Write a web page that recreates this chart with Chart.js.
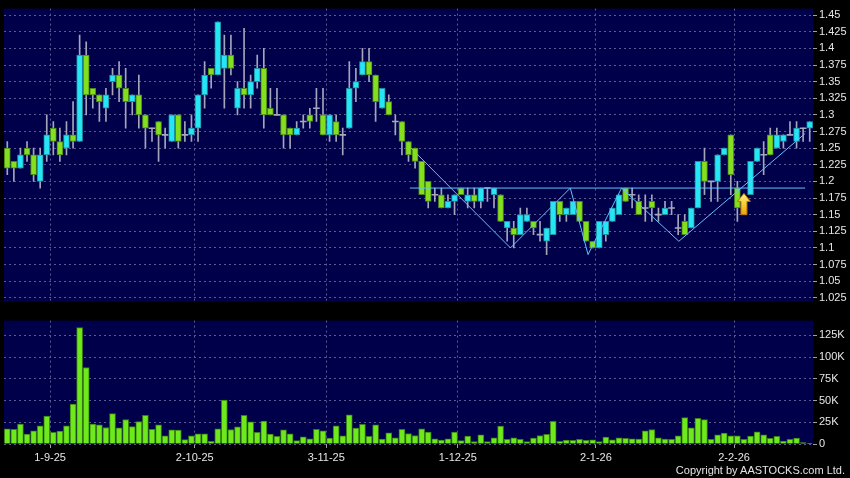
<!DOCTYPE html>
<html>
<head>
<meta charset="utf-8">
<script src="https://cdn.jsdelivr.net/npm/chart.js@4.4.1/dist/chart.umd.min.js"></script>
<style>
  html, body { margin: 0; padding: 0; background: #000; }
  #wrap { position: relative; width: 850px; height: 478px; overflow: hidden; font-family: "Liberation Sans", Arial, sans-serif; }
  #priceChart { position: absolute; left: 0; top: 0; }
  #volChart { position: absolute; left: 0; top: 312px; }
  #copy { position: absolute; right: 5px; top: 464px; color: #e4e4e4; font-size: 11px; }
</style>
</head>
<body>
<div id="wrap">
  <canvas id="priceChart" width="850" height="310"></canvas>
  <canvas id="volChart" width="850" height="166"></canvas>
  <div id="copy">Copyright by AASTOCKS.com Ltd.</div>
</div>
<script>
// trading days (d-m-yy)
const dates = ('22-8-25 25-8-25 26-8-25 27-8-25 28-8-25 29-8-25 ' +
  '1-9-25 2-9-25 3-9-25 4-9-25 5-9-25 8-9-25 9-9-25 10-9-25 11-9-25 12-9-25 15-9-25 16-9-25 17-9-25 18-9-25 19-9-25 ' +
  '22-9-25 23-9-25 24-9-25 25-9-25 26-9-25 29-9-25 30-9-25 ' +
  '2-10-25 3-10-25 6-10-25 8-10-25 9-10-25 10-10-25 13-10-25 14-10-25 15-10-25 16-10-25 17-10-25 ' +
  '20-10-25 21-10-25 22-10-25 23-10-25 24-10-25 27-10-25 28-10-25 30-10-25 31-10-25 ' +
  '3-11-25 4-11-25 5-11-25 6-11-25 7-11-25 10-11-25 11-11-25 12-11-25 13-11-25 14-11-25 ' +
  '17-11-25 18-11-25 19-11-25 20-11-25 21-11-25 24-11-25 25-11-25 26-11-25 27-11-25 28-11-25 ' +
  '1-12-25 2-12-25 3-12-25 4-12-25 5-12-25 8-12-25 9-12-25 10-12-25 11-12-25 12-12-25 ' +
  '15-12-25 16-12-25 17-12-25 18-12-25 19-12-25 22-12-25 23-12-25 24-12-25 29-12-25 30-12-25 31-12-25 ' +
  '2-1-26 5-1-26 6-1-26 7-1-26 8-1-26 9-1-26 12-1-26 13-1-26 14-1-26 15-1-26 16-1-26 ' +
  '19-1-26 20-1-26 21-1-26 22-1-26 23-1-26 26-1-26 27-1-26 28-1-26 29-1-26 30-1-26 ' +
  '2-2-26 3-2-26 4-2-26 5-2-26 6-2-26 9-2-26 10-2-26 11-2-26 12-2-26 13-2-26 16-2-26 20-2-26 23-2-26').split(' ');

const labelDates = ['1-9-25', '2-10-25', '3-11-25', '1-12-25', '2-1-26', '2-2-26'];

const open = [
  1.25, 1.23, 1.22, 1.25, 1.24, 1.20, 1.24, 1.28, 1.26, 1.25,
  1.27, 1.26, 1.39, 1.34, 1.33, 1.31, 1.35, 1.36, 1.34, 1.32,
  1.33, 1.30, 1.28, 1.29, 1.27, 1.26, 1.30, 1.27, 1.27, 1.28,
  1.33, 1.37, 1.36, 1.37, 1.39, 1.31, 1.34, 1.33, 1.35, 1.37,
  1.31, 1.30, 1.30, 1.28, 1.27, 1.29, 1.30, 1.31, 1.30, 1.27,
  1.29, 1.27, 1.28, 1.34, 1.36, 1.38, 1.36, 1.31, 1.32, 1.29,
  1.29, 1.26, 1.25, 1.23, 1.20, 1.18, 1.18, 1.16, 1.17, 1.19,
  1.17, 1.18, 1.17, 1.19, 1.18, 1.18, 1.13, 1.13, 1.12, 1.14,
  1.14, 1.12, 1.11, 1.12, 1.17, 1.15, 1.15, 1.17, 1.14, 1.11,
  1.10, 1.12, 1.14, 1.15, 1.19, 1.18, 1.17, 1.16, 1.17, 1.15,
  1.15, 1.16, 1.13, 1.14, 1.13, 1.16, 1.23, 1.20, 1.20, 1.24,
  1.27, 1.19, 1.16, 1.18, 1.23, 1.24, 1.27, 1.25, 1.26, 1.27,
  1.26, 1.28, 1.28
];
const high = [
  1.26, 1.23, 1.25, 1.26, 1.25, 1.25, 1.30, 1.29, 1.28, 1.29,
  1.32, 1.42, 1.41, 1.34, 1.33, 1.34, 1.37, 1.38, 1.37, 1.33,
  1.36, 1.30, 1.28, 1.29, 1.28, 1.30, 1.30, 1.29, 1.30, 1.33,
  1.38, 1.37, 1.44, 1.42, 1.42, 1.35, 1.43, 1.36, 1.39, 1.40,
  1.34, 1.34, 1.30, 1.28, 1.29, 1.30, 1.31, 1.34, 1.34, 1.30,
  1.30, 1.28, 1.38, 1.37, 1.40, 1.40, 1.36, 1.34, 1.33, 1.30,
  1.29, 1.26, 1.25, 1.23, 1.20, 1.19, 1.19, 1.18, 1.18, 1.19,
  1.19, 1.19, 1.19, 1.19, 1.19, 1.18, 1.14, 1.14, 1.16, 1.16,
  1.14, 1.14, 1.13, 1.17, 1.17, 1.16, 1.17, 1.17, 1.14, 1.11,
  1.14, 1.14, 1.16, 1.18, 1.19, 1.19, 1.18, 1.18, 1.18, 1.16,
  1.17, 1.17, 1.15, 1.15, 1.16, 1.23, 1.25, 1.20, 1.24, 1.25,
  1.27, 1.20, 1.18, 1.23, 1.25, 1.26, 1.28, 1.28, 1.27, 1.29,
  1.29, 1.28, 1.29
];
const low = [
  1.21, 1.20, 1.22, 1.23, 1.20, 1.19, 1.23, 1.24, 1.23, 1.24,
  1.25, 1.26, 1.30, 1.31, 1.29, 1.29, 1.33, 1.32, 1.28, 1.30,
  1.28, 1.25, 1.26, 1.23, 1.25, 1.26, 1.25, 1.26, 1.26, 1.26,
  1.31, 1.34, 1.36, 1.31, 1.36, 1.30, 1.31, 1.31, 1.34, 1.28,
  1.30, 1.30, 1.25, 1.25, 1.27, 1.28, 1.28, 1.29, 1.27, 1.26,
  1.26, 1.24, 1.28, 1.32, 1.36, 1.35, 1.29, 1.31, 1.30, 1.27,
  1.24, 1.23, 1.22, 1.18, 1.16, 1.17, 1.16, 1.16, 1.15, 1.18,
  1.16, 1.16, 1.16, 1.17, 1.16, 1.14, 1.11, 1.10, 1.12, 1.14,
  1.12, 1.11, 1.09, 1.12, 1.14, 1.14, 1.15, 1.14, 1.11, 1.10,
  1.10, 1.11, 1.14, 1.15, 1.17, 1.16, 1.15, 1.14, 1.14, 1.14,
  1.15, 1.15, 1.12, 1.12, 1.13, 1.16, 1.18, 1.17, 1.17, 1.24,
  1.18, 1.14, 1.16, 1.18, 1.23, 1.21, 1.24, 1.25, 1.25, 1.27,
  1.25, 1.26, 1.26
];
const close = [
  1.22, 1.22, 1.24, 1.24, 1.21, 1.24, 1.27, 1.26, 1.24, 1.27,
  1.26, 1.39, 1.33, 1.33, 1.32, 1.33, 1.36, 1.34, 1.32, 1.33,
  1.30, 1.28, 1.28, 1.27, 1.27, 1.30, 1.26, 1.27, 1.28, 1.33,
  1.36, 1.36, 1.44, 1.39, 1.37, 1.34, 1.33, 1.35, 1.37, 1.30,
  1.30, 1.30, 1.27, 1.27, 1.28, 1.29, 1.29, 1.31, 1.27, 1.30,
  1.27, 1.27, 1.34, 1.35, 1.38, 1.36, 1.32, 1.34, 1.30, 1.29,
  1.26, 1.24, 1.23, 1.18, 1.17, 1.18, 1.16, 1.17, 1.18, 1.18,
  1.18, 1.17, 1.19, 1.19, 1.19, 1.14, 1.14, 1.12, 1.15, 1.15,
  1.13, 1.12, 1.13, 1.17, 1.15, 1.16, 1.17, 1.14, 1.11, 1.10,
  1.14, 1.14, 1.16, 1.18, 1.17, 1.18, 1.15, 1.16, 1.16, 1.15,
  1.16, 1.16, 1.13, 1.12, 1.16, 1.23, 1.20, 1.20, 1.24, 1.25,
  1.21, 1.16, 1.17, 1.23, 1.25, 1.24, 1.24, 1.27, 1.27, 1.27,
  1.28, 1.28, 1.29
];
const volume = [
  17400, 17000, 23000, 11400, 15200, 20800, 32000, 13300, 14800, 20800,
  45800, 134000, 88000, 23000, 22000, 19000, 35000, 18600, 28000, 20000,
  25800, 33000, 17000, 22000, 9500, 16300, 16000, 5000, 9500, 11700,
  11700, 3000, 17400, 50400, 16700, 19700, 33000, 25400, 13300, 26500,
  11400, 8700, 16300, 11700, 3800, 8300, 6000, 17000, 15200, 6800,
  20800, 9500, 33700, 18200, 22700, 8700, 22000, 5700, 12900, 7200,
  17000, 12100, 9800, 17400, 13600, 6000, 4500, 6000, 13600, 3800,
  9100, 2700, 10600, 2700, 7200, 20500, 5300, 7200, 5300, 2700,
  6800, 9800, 11000, 26000, 3000, 4500, 4200, 5300, 4200, 4900,
  2700, 8000, 4900, 7200, 6400, 6000, 5700, 15200, 16700, 7200,
  5700, 5300, 9500, 30300, 18600, 29500, 28000, 5300, 10600, 12500,
  9500, 9500, 5300, 9100, 14000, 10600, 6400, 8700, 3400, 5300,
  6800, 1500, 400
];

// hand-drawn pattern lines (x in trading-day index)
const trendX = [61.4, 76.5, 85.6, 88.3, 93.4, 102.1, 121.3];
const trendY = [1.25, 1.10, 1.19, 1.09, 1.19, 1.11, 1.272];
const neckX = [61.2, 121.3];
const neckY = [1.19, 1.19];
const arrowIdx = 112, arrowTop = 1.182, arrowBottom = 1.15;

const priceTicks = [1.025, 1.05, 1.075, 1.1, 1.125, 1.15, 1.175, 1.2, 1.225, 1.25, 1.275, 1.3, 1.325, 1.35, 1.375, 1.4, 1.425, 1.45];
const volTicks = [0, 25000, 50000, 75000, 100000, 125000];

const gridIdx = labelDates.map(d => dates.indexOf(d));
const font = { family: 'Liberation Sans', size: 11 };
const gridColor = '#5a5a92';
const textColor = '#e6e6e6';
const lineColor = '#62c2ff';

function candleFill(i) {
  if (close[i] > open[i]) return '#26e6f6';
  if (close[i] < open[i]) return '#84e01e';
  return '#a8a8bc';
}
function candleEdge(i) {
  if (close[i] > open[i]) return '#1c8e9e';
  if (close[i] < open[i]) return '#4a861a';
  return '#a8a8bc';
}

// set ticks sendiri dan kunci batas skala
function fixTicks(values, lo, hi) {
  return s => {
    s.ticks = values.map(v => ({ value: v }));
    s.min = lo;
    s.max = hi;
  };
}

const panelBg = {
  id: 'panelBg',
  beforeDraw(chart) {
    const { ctx, chartArea: a } = chart;
    ctx.save();
    ctx.fillStyle = '#00004a';
    ctx.fillRect(a.left, a.top, a.right - a.left, a.bottom - a.top);
    ctx.restore();
  }
};

const arrowMark = {
  id: 'arrowMark',
  afterDatasetsDraw(chart) {
    const { ctx, scales: { x, y } } = chart;
    const cx = x.getPixelForValue(arrowIdx);
    const top = y.getPixelForValue(arrowTop);
    const bot = y.getPixelForValue(arrowBottom);
    const hw = 6.5, sw = 3, hh = 8;
    ctx.save();
    const g = ctx.createLinearGradient(0, top, 0, bot);
    g.addColorStop(0, '#fff27a');
    g.addColorStop(1, '#eea400');
    ctx.beginPath();
    ctx.moveTo(cx, top);
    ctx.lineTo(cx + hw, top + hh);
    ctx.lineTo(cx + sw, top + hh);
    ctx.lineTo(cx + sw, bot);
    ctx.lineTo(cx - sw, bot);
    ctx.lineTo(cx - sw, top + hh);
    ctx.lineTo(cx - hw, top + hh);
    ctx.closePath();
    ctx.fillStyle = g;
    ctx.fill();
    ctx.strokeStyle = '#b87800';
    ctx.lineWidth = 1;
    ctx.stroke();
    ctx.restore();
  }
};

const xMin = -0.5;
const xMax = dates.length - 0.5;
const gridPos = gridIdx.map(i => i + 0.5);

// grafik harga
new Chart(document.getElementById('priceChart'), {
  type: 'bar',
  data: {
    labels: dates,
    datasets: [
      {
        label: 'wick',
        data: dates.map((d, i) => [low[i], high[i]]),
        backgroundColor: '#a4a4ba',
        barThickness: 1,
        grouped: false,
        order: 2
      },
      {
        label: 'body',
        data: dates.map((d, i) => open[i] === close[i]
          ? [open[i] - 0.0007, open[i] + 0.0007]
          : [Math.min(open[i], close[i]), Math.max(open[i], close[i])]),
        backgroundColor: ctx => candleFill(ctx.dataIndex),
        borderColor: ctx => candleEdge(ctx.dataIndex),
        borderWidth: ctx => open[ctx.dataIndex] === close[ctx.dataIndex] ? 0 : 1,
        borderSkipped: false,
        barThickness: 6,
        grouped: false,
        order: 1
      },
      {
        type: 'line',
        label: 'trend',
        xAxisID: 'xl',
        data: trendX.map((x, k) => ({ x: x, y: trendY[k] })),
        borderColor: lineColor,
        borderWidth: 1,
        pointRadius: 0,
        tension: 0,
        order: 0
      },
      {
        type: 'line',
        label: 'neck',
        xAxisID: 'xl',
        data: neckX.map((x, k) => ({ x: x, y: neckY[k] })),
        borderColor: lineColor,
        borderWidth: 1,
        pointRadius: 0,
        order: 0
      }
    ]
  },
  options: {
    responsive: false,
    animation: false,
    layout: { autoPadding: false, padding: { left: 4, top: 5, bottom: 4, right: 0 } },
    plugins: { legend: { display: false }, tooltip: { enabled: false } },
    scales: {
      x: { type: 'category', display: false, offset: true },
      xl: {
        type: 'linear', position: 'bottom', min: xMin, max: xMax, offset: false,
        afterBuildTicks: fixTicks(gridPos, xMin, xMax),
        afterFit: s => { s.height = 0; },
        ticks: { display: false },
        grid: { color: gridColor, drawTicks: false, offset: false },
        border: { display: false, dash: [2, 3] }
      },
      y: {
        position: 'right', min: 1.0196, max: 1.4598,
        afterBuildTicks: fixTicks(priceTicks, 1.0196, 1.4598),
        afterFit: s => { s.width = 37; },
        ticks: { color: textColor, font: font, padding: 2, callback: v => String(+v.toFixed(3)) },
        grid: { color: gridColor, tickLength: 4, tickColor: '#a0a0a0' },
        border: { display: false, dash: [2, 3] }
      }
    }
  },
  plugins: [panelBg, arrowMark]
});

// grafik volume
new Chart(document.getElementById('volChart'), {
  type: 'bar',
  data: {
    labels: dates,
    datasets: [{
      label: 'volume',
      data: volume,
      backgroundColor: '#6eea1c',
      borderColor: '#3a7e16',
      borderWidth: 1,
      barThickness: 6
    }]
  },
  options: {
    responsive: false,
    animation: false,
    layout: { autoPadding: false, padding: { left: 4, top: 7, bottom: 0, right: 0 } },
    plugins: { legend: { display: false }, tooltip: { enabled: false } },
    scales: {
      x: { type: 'category', display: false, offset: true },
      xl: {
        type: 'linear', position: 'bottom', min: xMin, max: xMax, offset: false,
        afterBuildTicks: fixTicks(gridPos, xMin, xMax),
        afterFit: s => { s.height = 34; },
        ticks: {
          color: textColor, font: font, padding: 3, maxRotation: 0, autoSkip: false,
          callback: v => dates[Math.round(v - 0.5)]
        },
        grid: { color: gridColor, tickLength: 4, tickColor: '#a0a0a0', offset: false },
        border: { display: false, dash: [2, 3] }
      },
      y: {
        position: 'right', min: 0, max: 142000,
        afterBuildTicks: fixTicks(volTicks, 0, 142000),
        afterFit: s => { s.width = 37; },
        ticks: { color: textColor, font: font, padding: 2, callback: v => v === 0 ? '0' : (v / 1000) + 'K' },
        grid: { color: gridColor, tickLength: 4, tickColor: '#a0a0a0' },
        border: { display: false, dash: [2, 3] }
      }
    }
  },
  plugins: [panelBg]
});
</script>
</body>
</html>
